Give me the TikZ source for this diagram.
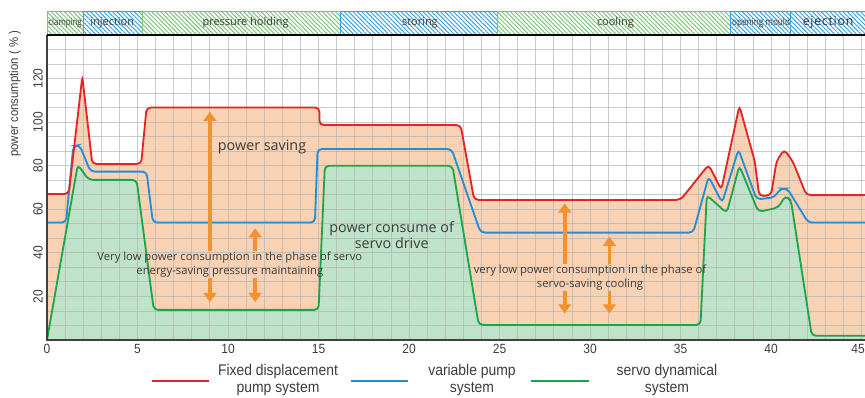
\documentclass[tikz,border=0pt]{standalone}
\usepackage{fontspec}
\setmainfont{Open Sans}
\newfontfamily\narrowfont[FakeStretch=0.9]{Liberation Sans}
\newfontfamily\spacedfont[LetterSpace=6]{Open Sans}
\usepackage{graphicx}
\usetikzlibrary{arrows.meta,patterns.meta}

\definecolor{redline}{HTML}{E52428}
\definecolor{blueline}{HTML}{1F8FD8}
\definecolor{greenline}{HTML}{1AA64A}
\definecolor{savefill}{HTML}{F9D1B3}
\definecolor{servofill}{HTML}{BFE2CB}
\definecolor{arroworange}{HTML}{F0922F}
\definecolor{hatchgreen}{HTML}{7CC576}
\definecolor{hatchblue}{HTML}{35A3E3}
\definecolor{textgray}{HTML}{3C3C3C}

\def\redtrace{(0,67) -- (1.2,67) -- (1.95,121) -- (2.5,80.8) -- (5.2,80.8)
  -- (5.5,106.7) -- (15.05,106.7) -- (15.05,98.7) -- (22.85,98.7) -- (23.6,64.3)
  -- (35.0,64.3) -- (36.55,80.5) -- (37.25,69) -- (38.25,107.5) -- (39.1,82)
  -- (39.35,66) -- (40.0,66.5) -- (40.3,82) -- (40.72,87.5) -- (41.2,82)
  -- (41.95,66.5) -- (45.19,66.5)}
\def\bluetrace{(0,53.9) -- (1.05,53.9) -- (1.45,89) -- (1.8,89.5) -- (2.4,77.3)
  -- (5.5,77.3) -- (5.85,53.9) -- (14.8,53.9) -- (14.95,87.7) -- (22.35,87.7)
  -- (23.95,49.3) -- (35.7,49.3) -- (36.55,75) -- (37.3,63) -- (38.2,87.5)
  -- (39.2,64.5) -- (40.2,65.5) -- (40.5,69.5) -- (40.9,69.5) -- (42.05,53.9)
  -- (45.19,53.9)}
\def\greentrace{(0,0) -- (1.7,80.5) -- (2.3,73.5) -- (4.95,73.5) -- (5.9,13.8)
  -- (15.0,13.8) -- (15.35,80) -- (22.4,80) -- (23.85,6.9) -- (36.1,6.9)
  -- (36.45,66.5) -- (37.55,58.3) -- (38.25,80) -- (39.3,58.8) -- (40.4,60.8)
  -- (40.8,66.3) -- (41.1,64) -- (42.25,1.9) -- (45.19,1.9)}

\begin{document}
\begin{tikzpicture}[
      x=0.4525cm, y=0.05445cm,
      gridline/.style={draw=black!30, draw opacity=0.67, line width=0.6pt},
      axisline/.style={draw=black!75, line width=0.8pt},
      trace/.style={line width=1.3pt, rounded corners=3pt},
      redcurve/.style={trace, draw=redline},
      bluecurve/.style={trace, draw=blueline},
      greencurve/.style={trace, draw=greenline},
      savearrow/.style={-{Triangle[width=9pt,length=6.5pt]}, line width=2.6pt, draw=arroworange},
      note/.style={font=\fontsize{8}{9.8}\selectfont, text=textgray, align=center, inner sep=0.5pt},
      biglabel/.style={font=\fontsize{10.2}{11.8}\selectfont, text=textgray, align=center, inner sep=0pt},
      phase/.style={line width=0.7pt},
      greenphase/.style={phase, draw=hatchgreen,
        pattern={Lines[angle=-45,distance=2.2pt,line width=0.7pt]}, pattern color=hatchgreen},
      bluephase/.style={phase, draw=hatchblue,
        pattern={Lines[angle=-45,distance=2.2pt,line width=0.7pt]}, pattern color=hatchblue},
      phaselabel/.style={font=\fontsize{7.8}{8}\selectfont, text=textgray, inner sep=0pt},
      ticklabel/.style={font=\narrowfont\fontsize{9.5}{10}\selectfont, text=textgray, inner sep=0pt},
      legendtext/.style={font=\narrowfont\fontsize{11}{12.5}\selectfont, text=textgray, align=center, inner sep=0pt}
    ]
    \useasboundingbox (-2.597,-26.63) rectangle (45.19,156.1);

    \fill[savefill, rounded corners=3pt] \redtrace -- (45.19,0) -- (0,0) -- cycle;
    \fill[servofill, rounded corners=3pt] \greentrace -- (45.19,0) -- cycle;

    \foreach \i in {1,...,45}
      \draw[gridline] (\i,0) -- (\i,140);
    \foreach \j in {1,...,20}
      \draw[gridline] (0,\j*20/3) -- (45.19,\j*20/3);

    \draw[bluecurve] \bluetrace;
    \draw[redcurve] \redtrace;
    \draw[greencurve] \greentrace;

    \draw[axisline] (0,140) -- (0,0) -- (45.19,0);

    \node[biglabel] (savelabel) at (11.88,88.8) {power saving};
    \node[biglabel] (servolabel) at (19.04,48.2) {power consume of\\servo drive};
    \node[note] (pressnote) at (10.1,34.7)
      {Very low power consumption in the phase of servo\\energy-saving pressure maintaining};
    \node[note] (coolnote) at (30.0,28.6)
      {very low power consumption in the phase of\\servo-saving cooling};

    \coordinate (uptipa) at (9.0,104.8);
    \coordinate (uptipb) at (11.5,51.3);
    \coordinate (uptipc) at (28.6,62.7);
    \coordinate (uptipd) at (31.07,47.4);
    \draw[savearrow] (uptipa |- pressnote.north) -- (uptipa);
    \draw[savearrow] (uptipa |- pressnote.south) -- (uptipa |- 0,17.4);
    \draw[savearrow] (uptipb |- pressnote.north) -- (uptipb);
    \draw[savearrow] (uptipb |- pressnote.south) -- (uptipb |- 0,17.4);
    \draw[savearrow] (uptipc |- coolnote.north) -- (uptipc);
    \draw[savearrow] (uptipc |- coolnote.south) -- (uptipc |- 0,12.2);
    \draw[savearrow] (uptipd |- coolnote.north) -- (uptipd);
    \draw[savearrow] (uptipd |- coolnote.south) -- (uptipd |- 0,12.2);

    \draw[greenphase] (0,140) rectangle (1.99,150.6);
    \draw[bluephase] (1.99,140) rectangle (5.25,150.6);
    \draw[greenphase] (5.25,140) rectangle (16.19,150.6);
    \draw[bluephase] (16.19,140) rectangle (24.86,150.6);
    \draw[greenphase] (24.86,140) rectangle (37.74,150.6);
    \draw[bluephase] (37.74,140) rectangle (41.05,150.6);
    \draw[bluephase] (41.05,140) rectangle (45.6,150.6);
    \draw[line width=0.9pt] (0,140) -- (45.19,140);

    \node[phaselabel] (clamping) at (1.0,145.5) {\fontsize{7}{8}\selectfont\scalebox{0.8}[1]{clamping}};
    \node[phaselabel] (injection) at (3.6,145.5) {injection};
    \node[phaselabel] (holding) at (10.97,145.5) {pressure holding};
    \node[phaselabel] (storing) at (20.6,145.5) {storing};
    \node[phaselabel] (cooling) at (31.4,145.5) {cooling};
    \node[phaselabel] (opening) at (39.45,145.5) {\fontsize{7}{8}\selectfont\scalebox{0.83}[1]{opening mould}};
    \node[phaselabel, text=black!80] (ejection) at (43.15,145.7) {\spacedfont\fontsize{8.8}{9}\selectfont ejection};

    \foreach \x in {0,5,...,40}
      \node[ticklabel, anchor=north] at (\x,-1.8) {\x};
    \node[ticklabel, anchor=north east] at (45.19,-1.8) {45};
    \foreach \y in {20,40,...,120}
      \node[ticklabel, rotate=90] at (-0.5,\y) {\y};
    \node[ticklabel, rotate=90, font=\narrowfont\fontsize{9}{10}\selectfont] (ylabel) at (-1.77,113) {power consumption ( \% )};

    \draw[redline, line width=1.4pt] (5.8,-18.8) -- (8.95,-18.8);
    \node[legendtext] (legfixed) at (12.76,-18.4) {Fixed displacement\\pump system};
    \draw[blueline, line width=1.4pt] (16.8,-18.8) -- (19.94,-18.8);
    \node[legendtext] (legvariable) at (23.48,-18.4) {variable pump\\system};
    \draw[greenline, line width=1.4pt] (26.74,-18.8) -- (29.94,-18.8);
    \node[legendtext] (legservo) at (34.25,-18.4) {servo dynamical\\system};
  \end{tikzpicture}
\end{document}
